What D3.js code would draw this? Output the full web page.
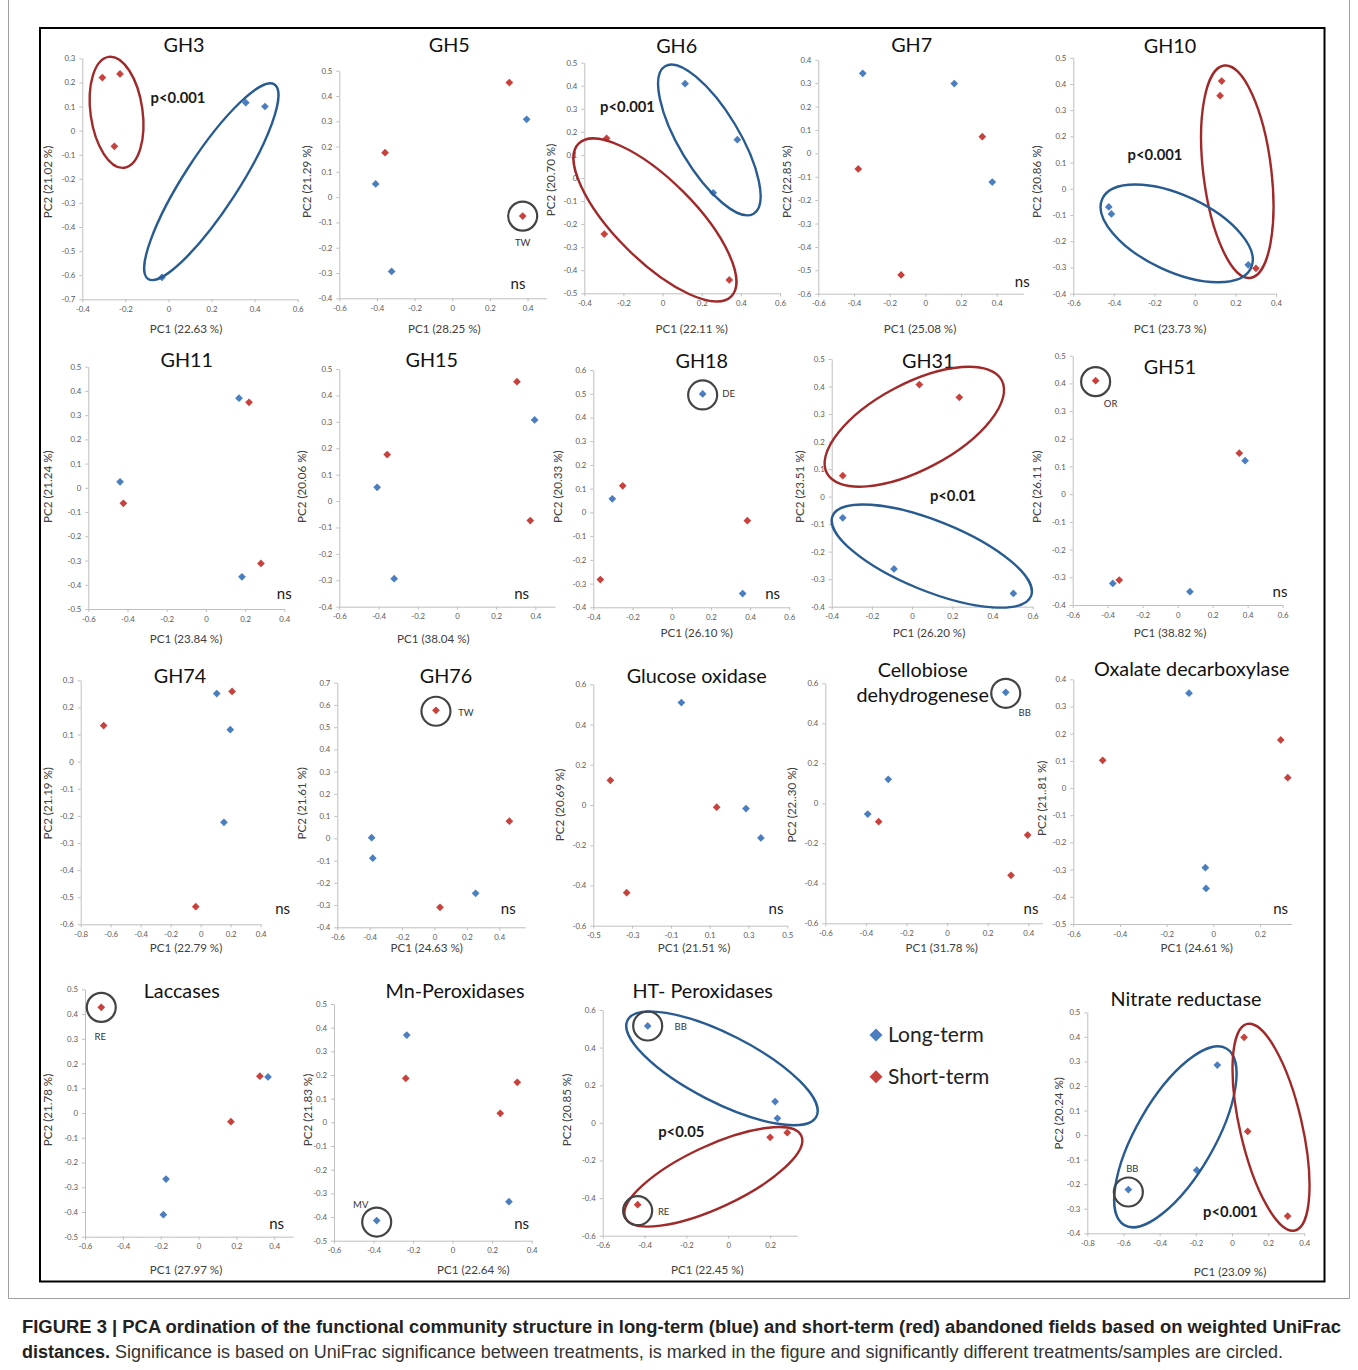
<!DOCTYPE html>
<html>
<head>
<meta charset="utf-8">
<script src="https://cdn.jsdelivr.net/npm/d3@7"></script>
<style>
body { margin: 0; background: #fff; }
text { font-family: Lato, "Open Sans", sans-serif; }
.tick text { fill: #595959; font-size: 7.8px; }
.tick line, .domain { stroke: #bfbfbf; }
</style>
</head>
<body>
<svg id="fig" width="1358" height="1370"></svg>
<script>
// ---- data ----
var panelTitles = ["GH3", "GH5", "GH6", "GH7", "GH10", "GH11", "GH15", "GH18", "GH31", "GH51",
    "GH74", "GH76", "Glucose oxidase", "Cellobiose dehydrogenese", "Oxalate decarboxylase",
    "Laccases", "Mn-Peroxidases", "HT- Peroxidases", "Nitrate reductase"];

var pc1Labels = ["PC1 (22.63 %)", "PC1 (28.25 %)", "PC1 (22.11 %)", "PC1 (25.08 %)", "PC1 (23.73 %)",
    "PC1 (23.84 %)", "PC1 (38.04 %)", "PC1 (26.10 %)", "PC1 (26.20 %)", "PC1 (38.82 %)",
    "PC1 (22.79 %)", "PC1 (24.63 %)", "PC1 (21.51 %)", "PC1 (31.78 %)", "PC1 (24.61 %)",
    "PC1 (27.97 %)", "PC1 (22.64 %)", "PC1 (22.45 %)", "PC1 (23.09 %)"];

var pc2Labels = ["PC2 (21.02 %)", "PC2 (21.29 %)", "PC2 (20.70 %)", "PC2 (22.85 %)", "PC2 (20.86 %)",
    "PC2 (21.24 %)", "PC2 (20.06 %)", "PC2 (20.33 %)", "PC2 (23.51 %)", "PC2 (26.11 %)",
    "PC2 (21.19 %)", "PC2 (21.61 %)", "PC2 (20.69 %)", "PC2 (22..30 %)", "PC2 (21..81 %)",
    "PC2 (21.78 %)", "PC2 (21.83 %)", "PC2 (20.85 %)", "PC2 (20.24 %)"];

var significance = ["p<0.001", "ns", "p<0.001", "ns", "p<0.001", "ns", "ns", "ns", "p<0.01", "ns",
    "ns", "ns", "ns", "ns", "ns", "ns", "ns", "p<0.05", "p<0.001"];

var xDomains = [[-0.4, 0.6], [-0.6, 0.5], [-0.4, 0.6], [-0.6, 0.55], [-0.6, 0.4],
    [-0.6, 0.4], [-0.6, 0.5], [-0.4, 0.6], [-0.4, 0.6], [-0.6, 0.6],
    [-0.8, 0.4], [-0.6, 0.56], [-0.5, 0.5], [-0.6, 0.47], [-0.6, 0.336],
    [-0.6, 0.5], [-0.6, 0.4], [-0.6, 0.33], [-0.8, 0.4]];

var yDomains = [[-0.7, 0.3], [-0.4, 0.5], [-0.5, 0.5], [-0.6, 0.4], [-0.4, 0.5],
    [-0.5, 0.5], [-0.4, 0.5], [-0.4, 0.6], [-0.4, 0.5], [-0.4, 0.5],
    [-0.6, 0.3], [-0.4, 0.7], [-0.6, 0.6], [-0.6, 0.6], [-0.5, 0.4],
    [-0.5, 0.5], [-0.5, 0.5], [-0.6, 0.6], [-0.4, 0.5]];

var xTicks = [
    [-0.4, -0.2, 0, 0.2, 0.4, 0.6],
    [-0.6, -0.4, -0.2, 0, 0.2, 0.4],
    [-0.4, -0.2, 0, 0.2, 0.4, 0.6],
    [-0.6, -0.4, -0.2, 0, 0.2, 0.4],
    [-0.6, -0.4, -0.2, 0, 0.2, 0.4],
    [-0.6, -0.4, -0.2, 0, 0.2, 0.4],
    [-0.6, -0.4, -0.2, 0, 0.2, 0.4],
    [-0.4, -0.2, 0, 0.2, 0.4, 0.6],
    [-0.4, -0.2, 0, 0.2, 0.4, 0.6],
    [-0.6, -0.4, -0.2, 0, 0.2, 0.4, 0.6],
    [-0.8, -0.6, -0.4, -0.2, 0, 0.2, 0.4],
    [-0.6, -0.4, -0.2, 0, 0.2, 0.4],
    [-0.5, -0.3, -0.1, 0.1, 0.3, 0.5],
    [-0.6, -0.4, -0.2, 0, 0.2, 0.4],
    [-0.6, -0.4, -0.2, 0, 0.2],
    [-0.6, -0.4, -0.2, 0, 0.2, 0.4],
    [-0.6, -0.4, -0.2, 0, 0.2, 0.4],
    [-0.6, -0.4, -0.2, 0, 0.2],
    [-0.8, -0.6, -0.4, -0.2, 0, 0.2, 0.4]];

var yTicks = [
    [-0.7, -0.6, -0.5, -0.4, -0.3, -0.2, -0.1, 0, 0.1, 0.2, 0.3],
    [-0.4, -0.3, -0.2, -0.1, 0, 0.1, 0.2, 0.3, 0.4, 0.5],
    [-0.5, -0.4, -0.3, -0.2, -0.1, 0, 0.1, 0.2, 0.3, 0.4, 0.5],
    [-0.6, -0.5, -0.4, -0.3, -0.2, -0.1, 0, 0.1, 0.2, 0.3, 0.4],
    [-0.4, -0.3, -0.2, -0.1, 0, 0.1, 0.2, 0.3, 0.4, 0.5],
    [-0.5, -0.4, -0.3, -0.2, -0.1, 0, 0.1, 0.2, 0.3, 0.4, 0.5],
    [-0.4, -0.3, -0.2, -0.1, 0, 0.1, 0.2, 0.3, 0.4, 0.5],
    [-0.4, -0.3, -0.2, -0.1, 0, 0.1, 0.2, 0.3, 0.4, 0.5, 0.6],
    [-0.4, -0.3, -0.2, -0.1, 0, 0.1, 0.2, 0.3, 0.4, 0.5],
    [-0.4, -0.3, -0.2, -0.1, 0, 0.1, 0.2, 0.3, 0.4, 0.5],
    [-0.6, -0.5, -0.4, -0.3, -0.2, -0.1, 0, 0.1, 0.2, 0.3],
    [-0.4, -0.3, -0.2, -0.1, 0, 0.1, 0.2, 0.3, 0.4, 0.5, 0.6, 0.7],
    [-0.6, -0.4, -0.2, 0, 0.2, 0.4, 0.6],
    [-0.6, -0.4, -0.2, 0, 0.2, 0.4, 0.6],
    [-0.5, -0.4, -0.3, -0.2, -0.1, 0, 0.1, 0.2, 0.3, 0.4],
    [-0.5, -0.4, -0.3, -0.2, -0.1, 0, 0.1, 0.2, 0.3, 0.4, 0.5],
    [-0.5, -0.4, -0.3, -0.2, -0.1, 0, 0.1, 0.2, 0.3, 0.4, 0.5],
    [-0.6, -0.4, -0.2, 0, 0.2, 0.4, 0.6],
    [-0.4, -0.3, -0.2, -0.1, 0, 0.1, 0.2, 0.3, 0.4, 0.5]];

// [PC1, PC2] per sample, long-term (blue) fields
var longTerm = [
    [[0.359, 0.116], [0.448, 0.1], [-0.03, -0.609]],
    [[0.395, 0.308], [-0.407, 0.052], [-0.322, -0.294]],
    [[0.115, 0.409], [0.382, 0.166], [0.259, -0.064]],
    [[-0.351, 0.342], [0.162, 0.298], [0.375, -0.123]],
    [[-0.425, -0.069], [-0.412, -0.096], [0.263, -0.29]],
    [[0.169, 0.37], [-0.438, 0.025], [0.184, -0.367]],
    [[0.396, 0.307], [-0.407, 0.052], [-0.32, -0.294]],
    [[0.158, 0.499], [-0.303, 0.057], [0.362, -0.342]],
    [[-0.345, -0.077], [-0.09, -0.263], [0.504, -0.352]],
    [[0.385, 0.121], [-0.371, -0.322], [0.07, -0.352]],
    [[0.107, 0.251], [0.197, 0.118], [0.155, -0.224]],
    [[-0.388, 0.003], [-0.381, -0.089], [0.254, -0.247]],
    [[-0.046, 0.509], [0.287, -0.018], [0.364, -0.164]],
    [[0.289, 0.555], [-0.29, 0.12], [-0.391, -0.054]],
    [[-0.104, 0.349], [-0.034, -0.293], [-0.031, -0.369]],
    [[0.367, 0.146], [-0.172, -0.267], [-0.186, -0.411]],
    [[-0.232, 0.369], [0.285, -0.335], [-0.384, -0.415]],
    [[-0.385, 0.515], [0.224, 0.113], [0.235, 0.024]],
    [[-0.081, 0.285], [-0.195, -0.143], [-0.573, -0.222]]];

// [PC1, PC2] per sample, short-term (red) fields
var shortTerm = [
    [[-0.307, 0.22], [-0.225, 0.235], [-0.251, -0.065]],
    [[0.303, 0.453], [-0.357, 0.176], [0.374, -0.075]],
    [[-0.286, 0.172], [-0.298, -0.243], [0.341, -0.442]],
    [[0.319, 0.071], [-0.376, -0.067], [-0.136, -0.52]],
    [[0.132, 0.411], [0.124, 0.355], [0.301, -0.303]],
    [[0.22, 0.353], [-0.421, -0.064], [0.281, -0.312]],
    [[0.306, 0.452], [-0.356, 0.176], [0.374, -0.074]],
    [[-0.25, 0.112], [0.386, -0.035], [-0.364, -0.283]],
    [[0.036, 0.407], [0.235, 0.361], [-0.345, 0.076]],
    [[-0.469, 0.41], [0.352, 0.148], [-0.334, -0.31]],
    [[0.209, 0.259], [-0.647, 0.133], [-0.033, -0.535]],
    [[0.009, 0.576], [0.462, 0.077], [0.034, -0.31]],
    [[-0.412, 0.123], [0.136, -0.011], [-0.328, -0.436]],
    [[-0.337, -0.092], [0.397, -0.159], [0.315, -0.36]],
    [[0.289, 0.177], [-0.474, 0.102], [0.319, 0.038]],
    [[-0.514, 0.427], [0.324, 0.149], [0.171, -0.035]],
    [[-0.237, 0.186], [0.327, 0.169], [0.241, 0.038]],
    [[0.282, -0.052], [0.2, -0.077], [-0.433, -0.435]],
    [[0.067, 0.398], [0.087, 0.015], [0.308, -0.33]]];

var legendLabels = ["Long-term", "Short-term"];
var captionBold = "FIGURE 3 | PCA ordination of the functional community structure in long-term (blue) and short-term (red) abandoned fields based on weighted UniFrac";
var captionBold2 = "distances.";
var captionRest = " Significance is based on UniFrac significance between treatments, is marked in the figure and significantly different treatments/samples are circled.";

// ---- layout (page pixels) ----
// plot box: [left, right, top, bottom]
var plotBoxes = [
    [82.3, 297.7, 58.3, 299.3], [339.3, 546.4, 70.7, 298.3], [584.3, 780, 62.7, 293.3],
    [818.3, 1023.5, 59.7, 293.7], [1073.3, 1276, 57.7, 293.7],
    [88.3, 284.3, 366.7, 609], [339.3, 555, 369, 606.7], [593.3, 789.3, 370, 607.3],
    [831.7, 1032.7, 359, 606.7], [1072.7, 1282.7, 355.7, 605],
    [80.7, 260.7, 680.3, 924.3], [337.3, 525.2, 682.7, 927.3], [593.3, 787.3, 684.3, 925.7],
    [825.3, 1042.5, 683.3, 923.3], [1073.3, 1291.7, 679.3, 924],
    [85, 293.2, 989.3, 1236.7], [334, 531.7, 1004, 1240.7], [602.7, 797.3, 1010, 1235.7],
    [1087.3, 1304.3, 1012.3, 1233.3]];
var titlePos = [[184, 45], [449.3, 45], [676.7, 45.7], [911.7, 45], [1170, 45.7],
    [186.7, 360], [431.7, 360], [701.7, 360.7], [928.3, 360.7], [1170, 367.3],
    [180, 675.7], [446, 675.7], [696.7, 675.7], [922.7, 670], [1191.7, 669],
    [181.7, 990.7], [455, 990.7], [702.7, 990.7], [1186, 999.3]];
var xLabelPos = [[186, 329], [444.3, 329], [691.7, 329], [920, 329], [1170, 329],
    [186, 639], [433.3, 639], [696.7, 633.3], [929, 632.7], [1170, 632.7],
    [186, 948.3], [426.7, 948.3], [694, 948.3], [941.7, 948.3], [1196.7, 948.3],
    [186, 1270], [473.3, 1270], [707.3, 1270], [1230, 1271.7]];
var yLabelPos = [[48, 182], [306.7, 181.7], [551, 180], [786.7, 181.7], [1036.7, 181.7],
    [48.3, 486.7], [301.7, 486.7], [558.3, 486.7], [800, 486.7], [1037.3, 486.7],
    [48.3, 803.3], [301.7, 803.3], [560, 805], [792.3, 805], [1041.7, 798.3],
    [48.3, 1110], [307.7, 1110], [566.7, 1110], [1059.3, 1113.3]];
var sigPos = [[178, 97.7], [518, 283.3], [627.5, 106.7], [1022.3, 282], [1155, 155],
    [284.3, 593.3], [521.7, 593.3], [772.7, 593.3], [953, 495.7], [1280, 591.7],
    [282.7, 909], [508.3, 909], [776, 909], [1031, 908.3], [1280.7, 908.3],
    [276.7, 1224], [521.7, 1224], [681.3, 1131.7], [1230.5, 1211.7]];

// group ellipses: panel, group, centre (data), semi-axes (px), rotation (deg)
var ellipses = [
    {p: 0, g: "S", cx: -0.241, cy: 0.076, a: 56, b: 26, r: 82},
    {p: 0, g: "L", cx: 0.199, cy: -0.212, a: 116, b: 27, r: -57},
    {p: 2, g: "S", cx: -0.039, cy: -0.182, a: 108, b: 40, r: 45},
    {p: 2, g: "L", cx: 0.239, cy: 0.165, a: 86, b: 30, r: 59},
    {p: 4, g: "S", cx: 0.209, cy: 0.065, a: 107, b: 34, r: 83},
    {p: 4, g: "L", cx: -0.09, cy: -0.17, a: 82, b: 38, r: 25},
    {p: 8, g: "S", cx: 0.011, cy: 0.254, a: 99, b: 43, r: -28},
    {p: 8, g: "L", cx: 0.098, cy: -0.216, a: 107, b: 35, r: 22},
    {p: 17, g: "L", cx: -0.03, cy: 0.29, a: 106, b: 34, r: 27},
    {p: 17, g: "S", cx: -0.071, cy: -0.287, a: 97, b: 31, r: -25},
    {p: 18, g: "L", cx: -0.313, cy: -0.007, a: 102, b: 39, r: -60},
    {p: 18, g: "S", cx: 0.216, cy: 0.032, a: 106, b: 31, r: 77}];

// circled outlier samples: panel, group, sample index, label, label offset, circle offset
var circled = [
    {p: 1, g: "S", i: 2, label: "TW", dx: 0, dy: 27, cdy: 0},
    {p: 7, g: "L", i: 0, label: "DE", dx: 26, dy: 0, cdy: 1},
    {p: 9, g: "S", i: 0, label: "OR", dx: 15, dy: 23, cdy: 1},
    {p: 11, g: "S", i: 0, label: "TW", dx: 30, dy: 2, cdy: 1},
    {p: 13, g: "L", i: 0, label: "BB", dx: 19, dy: 20, cdy: 1},
    {p: 15, g: "S", i: 0, label: "RE", dx: -1, dy: 29, cdy: 0},
    {p: 16, g: "L", i: 2, label: "MV", dx: -16, dy: -16, cdy: 1.5},
    {p: 17, g: "L", i: 0, label: "BB", dx: 33, dy: 1, cdy: 0},
    {p: 17, g: "S", i: 2, label: "RE", dx: 26, dy: 7, cdy: 6},
    {p: 18, g: "L", i: 2, label: "BB", dx: 4, dy: -21, cdy: 2.4}];

var pointColor = {L: "#4a7ebf", S: "#c8423d"};
var ringColor = {L: "#285b90", S: "#a0292a"};

// ---- drawing ----
var svg = d3.select("#fig");

svg.append("rect").attr("x", 0).attr("y", 0).attr("width", 1358).attr("height", 1370).attr("fill", "#fff");

var fmt = function (d) {
    return d === 0 ? "0" : (d < 0 ? "-" : "") + Math.abs(d).toFixed(1);
};
var diamond = d3.symbol().type(d3.symbolSquare).size(30);

var scales = [];

panelTitles.forEach(function (title, i) {
    var box = plotBoxes[i];
    var x = d3.scaleLinear().domain(xDomains[i]).range([box[0], box[1]]);
    var y = d3.scaleLinear().domain(yDomains[i]).range([box[3], box[2]]);
    scales.push({x: x, y: y});

    var g = svg.append("g").attr("class", "panel");

    g.append("g")
        .attr("transform", "translate(0," + box[3] + ")")
        .call(d3.axisBottom(x).tickValues(xTicks[i]).tickFormat(fmt)
            .tickSize(3).tickSizeOuter(0).tickPadding(4));

    g.append("g")
        .attr("transform", "translate(" + box[0] + ",0)")
        .call(d3.axisLeft(y).tickValues(yTicks[i]).tickFormat(fmt)
            .tickSize(3).tickSizeOuter(0).tickPadding(4));

    // panel title
    var words = title === "Cellobiose dehydrogenese" ? title.split(" ") : [title];
    words.forEach(function (w, k) {
        g.append("text")
            .attr("x", titlePos[i][0])
            .attr("y", titlePos[i][1] + k * 25)
            .attr("dy", "0.35em")
            .attr("text-anchor", "middle")
            .style("font-size", "19.8px")
            .style("fill", "#111")
            .text(w);
    });

    g.append("text")
        .attr("x", xLabelPos[i][0])
        .attr("y", xLabelPos[i][1])
        .attr("dy", "0.35em")
        .attr("text-anchor", "middle")
        .style("font-size", "11.6px")
        .style("fill", "#404040")
        .text(pc1Labels[i]);

    g.append("text")
        .attr("transform", "translate(" + yLabelPos[i][0] + "," + yLabelPos[i][1] + ") rotate(-90)")
        .attr("dy", "0.35em")
        .attr("text-anchor", "middle")
        .style("font-size", "11.6px")
        .style("fill", "#404040")
        .text(pc2Labels[i]);

    var sig = significance[i];
    g.append("text")
        .attr("x", sigPos[i][0])
        .attr("y", sigPos[i][1])
        .attr("dy", "0.35em")
        .attr("text-anchor", "middle")
        .style("font-size", sig === "ns" ? "15px" : "14.8px")
        .style("font-weight", sig === "ns" ? "normal" : "bold")
        .style("fill", "#1a1a1a")
        .text(sig);

    [["L", longTerm[i]], ["S", shortTerm[i]]].forEach(function (grp) {
        g.selectAll(".dot" + grp[0])
            .data(grp[1])
            .enter().append("path")
            .attr("class", "dot" + grp[0])
            .attr("d", diamond)
            .attr("transform", function (d) {
                return "translate(" + x(d[0]) + "," + y(d[1]) + ") rotate(45)";
            })
            .style("fill", pointColor[grp[0]]);
    });
});

// group ellipses
svg.selectAll(".group-ellipse")
    .data(ellipses)
    .enter().append("ellipse")
    .attr("class", "group-ellipse")
    .attr("rx", function (d) { return d.a; })
    .attr("ry", function (d) { return d.b; })
    .attr("transform", function (d) {
        var s = scales[d.p];
        return "translate(" + s.x(d.cx) + "," + s.y(d.cy) + ") rotate(" + d.r + ")";
    })
    .style("fill", "none")
    .style("stroke", function (d) { return ringColor[d.g]; })
    .style("stroke-width", 2.4);

// circled samples
circled.forEach(function (c) {
    var s = scales[c.p];
    var pt = (c.g === "L" ? longTerm : shortTerm)[c.p][c.i];
    var px = s.x(pt[0]), py = s.y(pt[1]);
    svg.append("circle")
        .attr("cx", px)
        .attr("cy", py + c.cdy)
        .attr("r", 14.5)
        .style("fill", "none")
        .style("stroke", "#444")
        .style("stroke-width", 2.2);
    svg.append("text")
        .attr("x", px + c.dx)
        .attr("y", py + c.dy)
        .attr("dy", "0.35em")
        .attr("text-anchor", "middle")
        .style("font-size", "9.5px")
        .style("fill", "#333")
        .text(c.label);
});

// legend
var legend = svg.selectAll(".legend")
    .data(legendLabels)
    .enter().append("g")
    .attr("class", "legend")
    .attr("transform", function (d, i) {
        return "translate(876," + (1035 + i * 41.7) + ")";
    });

legend.append("path")
    .attr("d", d3.symbol().type(d3.symbolSquare).size(85))
    .attr("transform", "rotate(45)")
    .style("fill", function (d, i) { return i === 0 ? pointColor.L : pointColor.S; });

legend.append("text")
    .attr("x", 12)
    .attr("dy", "0.35em")
    .style("font-size", "21px")
    .style("fill", "#222")
    .text(function (d) { return d; });

// frame
svg.append("rect")
    .attr("x", 40).attr("y", 28)
    .attr("width", 1284.5).attr("height", 1253.5)
    .style("fill", "none").style("stroke", "#000").style("stroke-width", 2);

svg.append("path")
    .attr("d", "M8.5,0V1298.5H1349.5V0")
    .style("fill", "none").style("stroke", "#a0a0a0").style("stroke-width", 1);

// caption
var cap = svg.append("g");
cap.append("text")
    .attr("x", 22).attr("y", 1333)
    .attr("textLength", 1319).attr("lengthAdjust", "spacingAndGlyphs")
    .style("font-family", "'Liberation Sans', Arial, sans-serif")
    .style("font-size", "18px").style("font-weight", "bold").style("fill", "#222")
    .text(captionBold);
var line2 = cap.append("text")
    .attr("x", 22).attr("y", 1358)
    .attr("textLength", 1261).attr("lengthAdjust", "spacingAndGlyphs")
    .style("font-family", "'Liberation Sans', Arial, sans-serif")
    .style("font-size", "18px").style("fill", "#333");
line2.append("tspan").style("font-weight", "bold").style("fill", "#222").text(captionBold2);
line2.append("tspan").text(captionRest);
</script>
</body>
</html>
